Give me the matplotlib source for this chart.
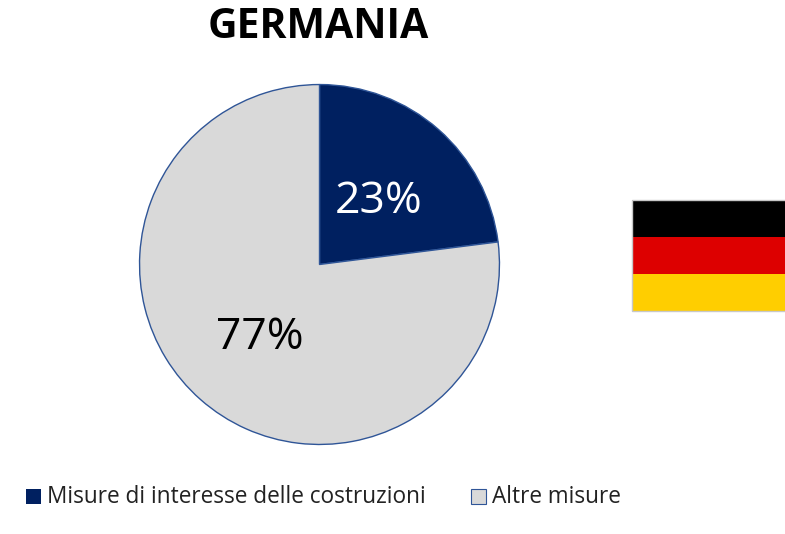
import matplotlib
matplotlib.use("Agg")
import matplotlib.pyplot as plt
from matplotlib.patches import Rectangle

plt.rcParams['font.family'] = ['Open Sans', 'DejaVu Sans']

title = "GERMANIA"
labels = ["Misure di interesse delle costruzioni", "Altre misure"]
values = [23, 77]
value_labels = ["23%", "77%"]
colors = ["#002060", "#d9d9d9"]
flag_colors = ["#000000", "#dd0000", "#ffce00"]

W, H = 785, 534
fig = plt.figure(figsize=(W / 100, H / 100), dpi=100)

# pie axes in pixel coords
ax = fig.add_axes([139 / W, 1 - 445 / H, 361 / W, 361 / H])
wedges, _ = ax.pie(values, colors=colors, startangle=90, counterclock=False,
                   radius=1, wedgeprops=dict(edgecolor="#2f5597", linewidth=1))
ax.set_xlim(-1.003, 1.003)
ax.set_ylim(-1.003, 1.003)

ax.text(0.33, 0.35, value_labels[0], color="white", fontsize=32, ha="center", va="center")
ax.text(-0.33, -0.405, value_labels[1], color="black", fontsize=32, ha="center", va="center")

fig.text(318 / W, 1 - 27 / H, title, fontsize=29.5, fontweight="bold", ha="center", va="center")

# flag
fax = fig.add_axes([0, 0, 1, 1])
fax.set_xlim(0, W)
fax.set_ylim(H, 0)
fax.axis("off")
fax.patch.set_alpha(0)
flag_top = [200, 237, 274]
for y, c in zip(flag_top, flag_colors):
    fax.add_patch(Rectangle((632, y), 153, 37, facecolor=c, edgecolor="none"))
fax.add_patch(Rectangle((631.5, 199.5), 154, 111.5, facecolor="none", edgecolor="#c8c8c8", linewidth=1))

# legend
fax.add_patch(Rectangle((26, 489), 15, 15, facecolor=colors[0], edgecolor="none"))
fax.add_patch(Rectangle((471, 489), 15, 15, facecolor=colors[1], edgecolor="#2f5597", linewidth=0.8))
fax.text(47, 497, labels[0], fontsize=16.3, va="center", ha="left", color="#222222")
fax.text(492, 497, labels[1], fontsize=16.3, va="center", ha="left", color="#222222")

fig.savefig("out.png", dpi=100)
